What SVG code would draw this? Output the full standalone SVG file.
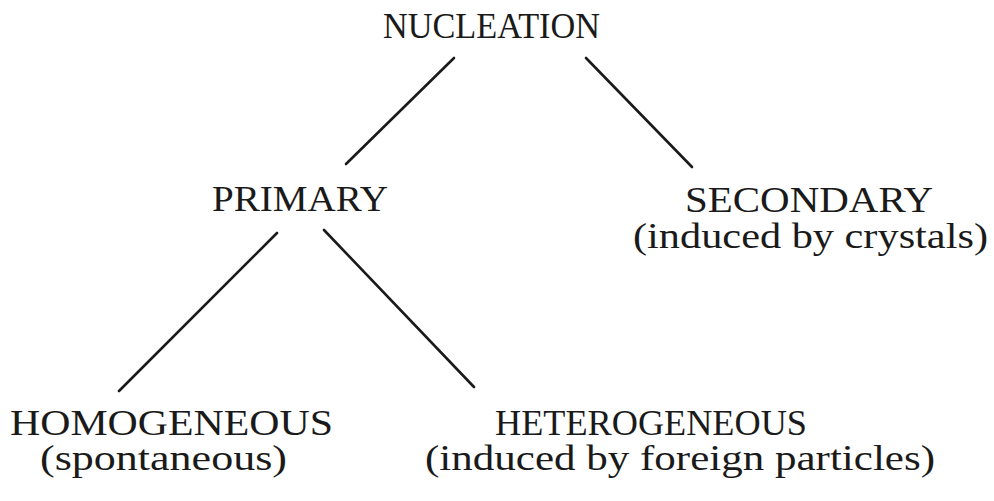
<svg xmlns="http://www.w3.org/2000/svg" width="994" height="501" viewBox="0 0 994 501">
<style>
text{font-family:'Liberation Serif',Tinos,'Times New Roman',Times,serif;font-size:35px;fill:#1a1a1a;text-anchor:middle}
.c line{stroke:#1a1a1a;stroke-width:2.6;stroke-linecap:round}
</style>
<rect width="994" height="501" fill="#ffffff"/>
<g class="c" id="connectors">
<line x1="454" y1="58" x2="346" y2="164"/>
<line x1="586" y1="58" x2="692" y2="167"/>
<line x1="277" y1="233" x2="119" y2="391"/>
<line x1="324" y1="230" x2="474" y2="387"/>
</g>
<g id="nucleation"><text x="491.5" y="38" textLength="217" lengthAdjust="spacingAndGlyphs">NUCLEATION</text></g>
<g id="primary"><text x="300" y="211" textLength="176" lengthAdjust="spacingAndGlyphs">PRIMARY</text></g>
<g id="secondary"><text x="809" y="212" textLength="248" lengthAdjust="spacingAndGlyphs">SECONDARY</text>
<text x="810.5" y="248" textLength="355" lengthAdjust="spacingAndGlyphs">(induced by crystals)</text></g>
<g id="homogeneous"><text x="171.5" y="435" textLength="323" lengthAdjust="spacingAndGlyphs">HOMOGENEOUS</text>
<text x="163.5" y="470" textLength="247" lengthAdjust="spacingAndGlyphs">(spontaneous)</text></g>
<g id="heterogeneous"><text x="651" y="435" textLength="312" lengthAdjust="spacingAndGlyphs">HETEROGENEOUS</text>
<text x="680" y="470" textLength="510" lengthAdjust="spacingAndGlyphs">(induced by foreign particles)</text></g>
</svg>
